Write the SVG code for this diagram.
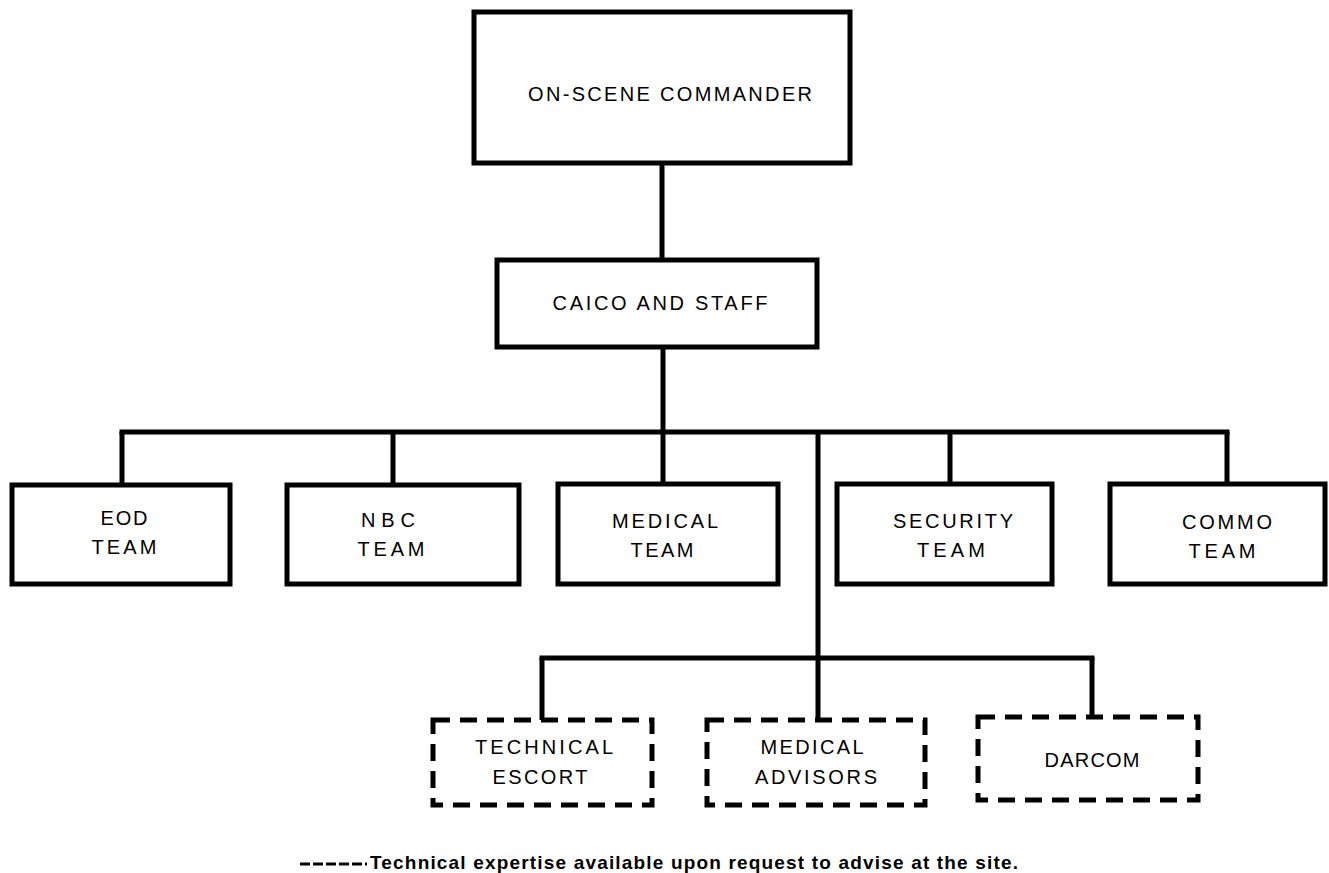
<svg xmlns="http://www.w3.org/2000/svg" width="1329" height="873" viewBox="0 0 1329 873">
<style>
.box{fill:#fff;stroke:#000;stroke-width:5}
.dbox{fill:#fff;stroke:#000;stroke-width:5;stroke-dasharray:17 10}
.lbl{font-family:"Liberation Sans",Arial,sans-serif;font-size:20px;fill:#000;text-anchor:middle}
.con{stroke:#000;stroke-width:5;fill:none}
.note{font-family:"Liberation Sans",Arial,sans-serif;font-size:19px;font-weight:bold;fill:#000}
</style>
<rect width="1329" height="873" fill="#fff"/>
<g id="connectors">
<line class="con" x1="662" y1="163" x2="662" y2="260"/>
<line class="con" x1="663" y1="347" x2="663" y2="432"/>
<line class="con" x1="119.5" y1="432" x2="1229.5" y2="432"/>
<line class="con" x1="122" y1="432" x2="122" y2="485"/>
<line class="con" x1="393" y1="432" x2="393" y2="485"/>
<line class="con" x1="663" y1="432" x2="663" y2="484"/>
<line class="con" x1="950" y1="432" x2="950" y2="484"/>
<line class="con" x1="1227" y1="432" x2="1227" y2="484"/>
<line class="con" x1="818" y1="432" x2="818" y2="720"/>
<line class="con" x1="539.5" y1="658" x2="1094.5" y2="658"/>
<line class="con" x1="542" y1="658" x2="542" y2="720"/>
<line class="con" x1="1092" y1="658" x2="1092" y2="717"/>
</g>
<g id="on-scene-commander">
<rect class="box" x="474" y="12" width="376" height="151"/>
<text class="lbl" x="670" y="101" textLength="284" lengthAdjust="spacing">ON-SCENE COMMANDER</text>
</g>
<g id="caico">
<rect class="box" x="497" y="260" width="320" height="87"/>
<text class="lbl" x="660" y="310" textLength="215" lengthAdjust="spacing">CAICO AND STAFF</text>
</g>
<g id="eod">
<rect class="box" x="12" y="485" width="218" height="99"/>
<text class="lbl" x="124" y="525" textLength="47" lengthAdjust="spacing">EOD</text>
<text class="lbl" x="124" y="554" textLength="65" lengthAdjust="spacing">TEAM</text>
</g>
<g id="nbc">
<rect class="box" x="287" y="485" width="232" height="99"/>
<text class="lbl" x="388" y="527" textLength="54" lengthAdjust="spacing">NBC</text>
<text class="lbl" x="391" y="556" textLength="67" lengthAdjust="spacing">TEAM</text>
</g>
<g id="medical">
<rect class="box" x="558" y="484" width="220" height="100"/>
<text class="lbl" x="665" y="528" textLength="106" lengthAdjust="spacing">MEDICAL</text>
<text class="lbl" x="662" y="557" textLength="63" lengthAdjust="spacing">TEAM</text>
</g>
<g id="security">
<rect class="box" x="837" y="484" width="215" height="100"/>
<text class="lbl" x="953" y="528" textLength="120" lengthAdjust="spacing">SECURITY</text>
<text class="lbl" x="951" y="557" textLength="68" lengthAdjust="spacing">TEAM</text>
</g>
<g id="commo">
<rect class="box" x="1110" y="484" width="215" height="100"/>
<text class="lbl" x="1227" y="529" textLength="90" lengthAdjust="spacing">COMMO</text>
<text class="lbl" x="1222" y="558" textLength="67" lengthAdjust="spacing">TEAM</text>
</g>
<g id="technical-escort">
<rect class="dbox" x="433" y="720" width="219" height="85"/>
<text class="lbl" x="544" y="754" textLength="138" lengthAdjust="spacing">TECHNICAL</text>
<text class="lbl" x="540" y="784" textLength="95" lengthAdjust="spacing">ESCORT</text>
</g>
<g id="medical-advisors">
<rect class="dbox" x="707" y="720" width="218" height="85"/>
<text class="lbl" x="812" y="754" textLength="103" lengthAdjust="spacing">MEDICAL</text>
<text class="lbl" x="816" y="784" textLength="122" lengthAdjust="spacing">ADVISORS</text>
</g>
<g id="darcom">
<rect class="dbox" x="978" y="717" width="220" height="83"/>
<text class="lbl" x="1092" y="767" textLength="95" lengthAdjust="spacing">DARCOM</text>
</g>
<g id="legend">
<line x1="300" y1="864" x2="367" y2="864" stroke="#000" stroke-width="3" stroke-dasharray="10 3"/>
<text class="note" x="370" y="869" textLength="648" lengthAdjust="spacing">Technical expertise available upon request to advise at the site.</text>
</g>
</svg>
